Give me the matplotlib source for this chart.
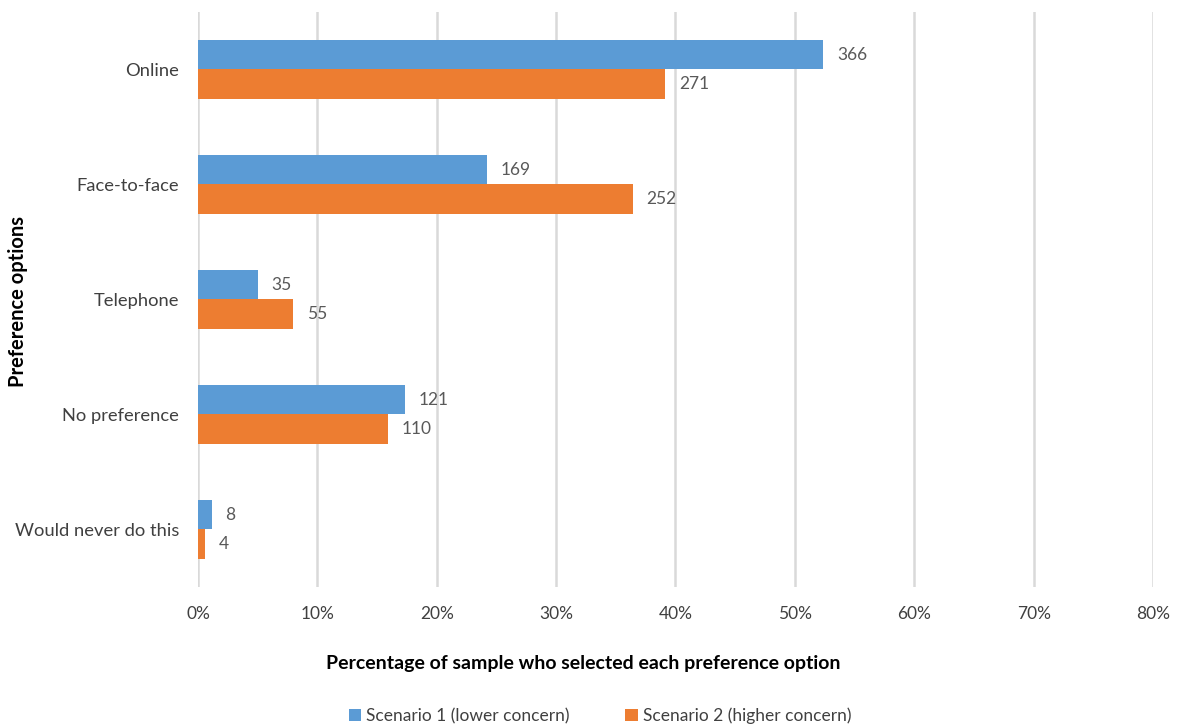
import matplotlib
matplotlib.use("Agg")
import matplotlib.pyplot as plt
from matplotlib.ticker import FuncFormatter
import numpy as np

categories = ["Online", "Face-to-face", "Telephone", "No preference", "Would never do this"]
scenario1_counts = [366, 169, 35, 121, 8]
scenario2_counts = [271, 252, 55, 110, 4]
series_names = ["Scenario 1 (lower concern)", "Scenario 2 (higher concern)"]
x_ticks = [0, 10, 20, 30, 40, 50, 60, 70, 80]

colors = ["#5B9BD5", "#ED7D31"]
text_color = "#404040"
label_color = "#595959"

plt.rcParams["font.family"] = ["Lato", "DejaVu Sans"]

fig = plt.figure(figsize=(11.86, 7.26), dpi=100)
ax = fig.add_axes([0.1669, 0.1915, 0.9722 - 0.1669, 0.9835 - 0.1915])

s1 = np.array(scenario1_counts, dtype=float)
s2 = np.array(scenario2_counts, dtype=float)
pct1 = s1 / s1.sum() * 100
pct2 = s2 / s2.sum() * 100

n = len(categories)
y = np.arange(n)
h = 0.26

b1 = ax.barh(y - h / 2, pct1, height=h, color=colors[0], label=series_names[0], zorder=3)
b2 = ax.barh(y + h / 2, pct2, height=h, color=colors[1], label=series_names[1], zorder=3)

for bars, counts in ((b1, scenario1_counts), (b2, scenario2_counts)):
    for bar, c in zip(bars, counts):
        ax.annotate(str(c), (bar.get_width(), bar.get_y() + bar.get_height() / 2),
                    xytext=(10, 0), textcoords="offset points", va="center", ha="left",
                    fontsize=12.5, color=label_color)

ax.set_ylim(n - 0.5, -0.5)
ax.set_xlim(0, 80)
ax.set_xticks(x_ticks)
ax.xaxis.set_major_formatter(FuncFormatter(lambda v, p: f"{v:.0f}%"))
ax.set_yticks(y)
ax.set_yticklabels(categories)
ax.tick_params(axis="both", length=0, labelsize=12.5, colors=text_color)
ax.tick_params(axis="y", labelsize=13.2, pad=13.5)
ax.tick_params(axis="x", pad=14)
ax.grid(axis="x", color="#D9D9D9", linewidth=1.8, zorder=0)
for s in ax.spines.values():
    s.set_visible(False)

ax.set_xlabel("Percentage of sample who selected each preference option",
              fontsize=14, fontweight="bold", color="black")
ax.xaxis.set_label_coords(0.403, -0.119)
ax.set_ylabel("Preference options", fontsize=14.5, fontweight="bold", color="black")
ax.yaxis.set_label_coords(-0.178, 0.496)

fig.legend(handles=[b1, b2], labels=series_names, loc="center", ncol=2,
           bbox_to_anchor=(0.506, 0.014), frameon=False, fontsize=12.5,
           handlelength=0.7, handleheight=0.7, handletextpad=0.3, columnspacing=3.2,
           labelcolor=text_color)

fig.savefig("out.png", dpi=100)
